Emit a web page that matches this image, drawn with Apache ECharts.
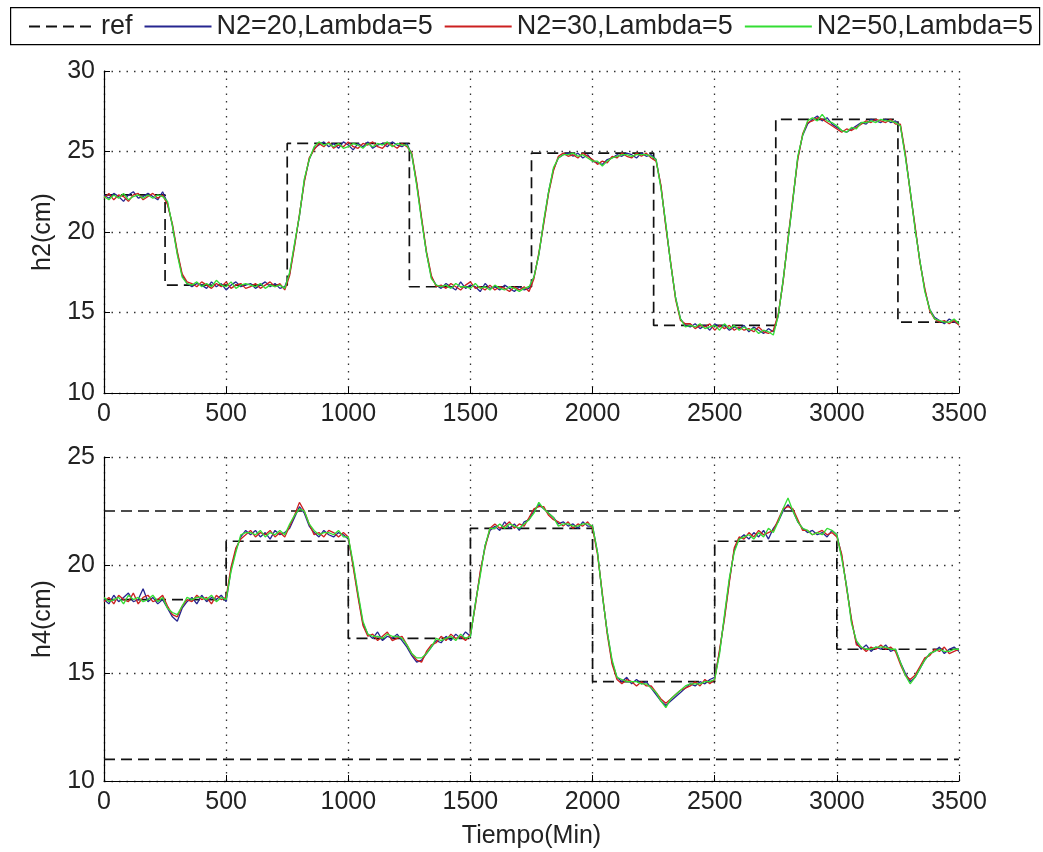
<!DOCTYPE html>
<html>
<head>
<meta charset="utf-8">
<title>h2 / h4</title>
<script src="https://cdn.jsdelivr.net/npm/echarts@6.0.0/dist/echarts.min.js"></script>
<style>
  html, body { margin: 0; padding: 0; background: #fff; }
  #chart { width: 1043px; height: 852px; }
</style>
</head>
<body>
<div id="chart"></div>
<script>
// sampled every DT minutes, 0..3500
const DT = 20

// h2 (top) -- one row = 200 min
const h2N20 = [
  22.3, 22.1, 22.4, 22.2, 21.9, 22.3, 22.5, 22.1, 22.2, 22.4,
  22.2, 22.0, 22.5, 21.8, 20.4, 18.7, 17.3, 16.8, 16.6, 16.8,
  16.7, 16.5, 16.9, 16.6, 16.8, 16.4, 16.7, 16.9, 16.6, 16.7,
  16.8, 16.5, 16.7, 16.9, 16.6, 16.8, 16.5, 16.6, 17.4, 19.2,
  21.0, 23.2, 24.5, 25.2, 25.4, 25.6, 25.3, 25.5, 25.2, 25.6,
  25.4, 25.1, 25.5, 25.3, 25.6, 25.2, 25.4, 25.5, 25.3, 25.6,
  25.4, 25.3, 25.5, 24.8, 23.0, 20.8, 18.7, 17.2, 16.7, 16.5,
  16.8, 16.6, 16.4, 16.9, 16.5, 16.7, 16.6, 16.3, 16.8, 16.5,
  16.6, 16.4, 16.7, 16.5, 16.3, 16.6, 16.4, 16.5, 17.2, 18.6,
  20.6, 22.5, 23.9, 24.6, 24.8, 24.9, 24.7, 24.9, 24.6, 24.8,
  24.4, 24.3, 24.2, 24.5, 24.6, 24.8, 24.7, 24.9, 24.8, 24.6,
  24.9, 24.7, 24.8, 24.5, 22.8, 20.4, 18.0, 15.9, 14.6, 14.2,
  14.1, 14.3, 14.0, 14.2, 13.9, 14.3, 14.1, 14.2, 13.9, 14.1,
  14.0, 14.2, 13.8, 14.1, 13.9, 13.7, 14.0, 13.8, 14.8, 17.0,
  19.5, 22.0, 24.6, 26.0, 26.7, 27.0, 27.2, 26.9, 27.1, 26.7,
  26.5, 26.3, 26.2, 26.4, 26.6, 26.8, 26.7, 27.0, 26.9, 26.8,
  27.0, 26.8, 26.9, 26.6, 24.8, 22.6, 20.3, 18.2, 16.4, 15.2,
  14.7, 14.5, 14.3, 14.6, 14.4, 14.3,
]
const h2N30 = [
  22.1, 22.4, 22.0, 22.3, 22.2, 21.9, 22.3, 22.4, 22.0, 22.2,
  22.4, 22.1, 22.3, 21.7, 20.5, 18.8, 17.4, 16.9, 16.8, 16.6,
  16.9, 16.7, 16.5, 16.8, 16.6, 16.9, 16.5, 16.7, 16.8, 16.5,
  16.6, 16.8, 16.5, 16.7, 16.9, 16.6, 16.8, 16.4, 17.3, 19.1,
  21.1, 23.1, 24.6, 25.1, 25.5, 25.3, 25.6, 25.2, 25.4, 25.3,
  25.6, 25.3, 25.2, 25.5, 25.4, 25.6, 25.3, 25.2, 25.5, 25.4,
  25.2, 25.5, 25.3, 24.9, 23.1, 20.9, 18.8, 17.3, 16.6, 16.7,
  16.5, 16.8, 16.6, 16.4, 16.7, 16.9, 16.5, 16.6, 16.4, 16.7,
  16.4, 16.6, 16.5, 16.3, 16.6, 16.4, 16.6, 16.3, 17.1, 18.7,
  20.5, 22.4, 23.8, 24.7, 24.9, 24.7, 24.8, 24.6, 24.9, 24.7,
  24.5, 24.2, 24.4, 24.3, 24.7, 24.6, 24.9, 24.7, 24.6, 24.9,
  24.7, 24.9, 24.6, 24.4, 22.9, 20.3, 18.1, 15.8, 14.5, 14.3,
  14.3, 14.0, 14.2, 14.1, 14.3, 13.9, 14.2, 14.0, 14.2, 13.9,
  14.1, 13.9, 14.0, 13.8, 14.1, 13.8, 13.7, 13.9, 14.9, 16.9,
  19.6, 22.1, 24.5, 26.1, 26.8, 26.9, 27.1, 27.0, 26.8, 26.6,
  26.4, 26.2, 26.4, 26.3, 26.5, 26.7, 26.9, 26.8, 27.0, 26.9,
  26.8, 27.0, 26.7, 26.7, 24.9, 22.5, 20.4, 18.1, 16.5, 15.1,
  14.6, 14.4, 14.5, 14.3, 14.5, 14.2,
]
const h2N50 = [
  22.2, 22.0, 22.3, 22.1, 22.4, 22.0, 22.2, 22.3, 22.1, 22.3,
  22.1, 22.3, 22.2, 21.9, 20.4, 18.6, 17.2, 16.8, 16.7, 16.9,
  16.6, 16.8, 16.6, 17.0, 16.7, 16.6, 16.9, 16.5, 16.7, 16.8,
  16.7, 16.6, 16.8, 16.5, 16.7, 16.6, 16.7, 16.5, 17.5, 19.3,
  21.0, 23.3, 24.5, 25.3, 25.6, 25.4, 25.5, 25.3, 25.5, 25.2,
  25.3, 25.5, 25.4, 25.2, 25.5, 25.3, 25.5, 25.4, 25.6, 25.3,
  25.5, 25.4, 25.4, 24.8, 22.9, 20.7, 18.7, 17.1, 16.7, 16.6,
  16.7, 16.5, 16.8, 16.6, 16.6, 16.5, 16.8, 16.5, 16.6, 16.4,
  16.7, 16.5, 16.4, 16.6, 16.5, 16.3, 16.5, 16.6, 17.2, 18.6,
  20.7, 22.5, 24.0, 24.6, 24.8, 24.8, 24.9, 24.7, 24.8, 24.6,
  24.4, 24.4, 24.1, 24.4, 24.6, 24.7, 24.8, 24.8, 24.7, 24.8,
  24.8, 24.8, 24.7, 24.5, 22.7, 20.5, 18.0, 15.9, 14.6, 14.1,
  14.2, 14.1, 14.3, 14.0, 14.1, 14.2, 13.9, 14.3, 14.0, 14.2,
  13.9, 14.1, 13.9, 14.0, 13.7, 13.9, 13.8, 13.6, 14.8, 17.0,
  19.5, 22.0, 24.7, 26.0, 26.9, 27.1, 26.9, 27.3, 26.9, 26.8,
  26.6, 26.3, 26.2, 26.5, 26.4, 26.8, 26.8, 26.9, 26.8, 27.0,
  26.9, 26.9, 26.8, 26.6, 24.7, 22.6, 20.2, 18.2, 16.3, 15.2,
  14.6, 14.5, 14.4, 14.4, 14.6, 14.3,
]

// h4 (bottom)
const h4N20 = [
  18.4, 18.2, 18.6, 18.3, 18.5, 18.7, 18.3, 18.4, 18.9, 18.3,
  18.5, 18.2, 18.4, 18.0, 17.6, 17.4, 18.0, 18.3, 18.5, 18.2,
  18.6, 18.3, 18.5, 18.4, 18.6, 18.3, 19.8, 20.7, 21.3, 21.6,
  21.4, 21.6, 21.3, 21.5, 21.2, 21.6, 21.4, 21.5, 21.7, 22.2,
  22.7, 22.4, 21.8, 21.5, 21.3, 21.6, 21.4, 21.3, 21.5, 21.4,
  21.2, 20.0, 18.6, 17.3, 16.8, 16.6, 16.9, 16.5, 16.7, 16.6,
  16.8, 16.5, 16.2, 15.8, 15.5, 15.6, 15.9, 16.2, 16.5, 16.4,
  16.7, 16.5, 16.8, 16.6, 16.9, 16.7, 18.2, 19.6, 20.9, 21.6,
  21.8, 21.6, 22.0, 21.7, 21.9, 21.6, 22.0, 22.1, 22.5, 22.8,
  22.6, 22.4, 22.2, 21.9, 22.0, 21.8, 21.9, 21.7, 22.0, 21.8,
  21.8, 20.6, 18.6, 16.9, 15.5, 14.8, 14.6, 14.8, 14.5, 14.7,
  14.5, 14.6, 14.3, 14.0, 13.7, 13.5, 13.7, 13.9, 14.1, 14.3,
  14.5, 14.4, 14.6, 14.5, 14.7, 14.8, 16.0, 17.6, 19.3, 20.7,
  21.2, 21.4, 21.2, 21.5, 21.3, 21.6, 21.2, 21.7, 22.0, 22.5,
  22.8, 22.5, 22.0, 21.7, 21.5, 21.6, 21.4, 21.5, 21.3, 21.6,
  21.4, 20.4, 19.0, 17.4, 16.4, 16.1, 16.3, 16.0, 16.2, 16.1,
  16.3, 16.0, 16.1, 15.5, 15.0, 14.6, 14.8, 15.2, 15.6, 15.9,
  16.0, 16.2, 15.9, 16.1, 16.2, 16.0,
]
const h4N30 = [
  18.3, 18.5, 18.2, 18.6, 18.4, 18.3, 18.7, 18.2, 18.5, 18.6,
  18.3, 18.4, 18.6, 18.1, 17.7, 17.6, 18.1, 18.4, 18.3, 18.6,
  18.4, 18.5, 18.2, 18.6, 18.4, 18.5, 19.9, 20.8, 21.2, 21.4,
  21.6, 21.3, 21.5, 21.4, 21.6, 21.3, 21.5, 21.3, 21.8, 22.3,
  22.9, 22.5, 21.9, 21.4, 21.5, 21.3, 21.6, 21.5, 21.3, 21.5,
  21.3, 19.9, 18.5, 17.2, 16.7, 16.8, 16.5, 16.7, 16.9, 16.5,
  16.6, 16.7, 16.3, 15.9, 15.6, 15.5, 16.0, 16.3, 16.4, 16.7,
  16.5, 16.8, 16.6, 16.7, 16.5, 16.8, 18.1, 19.7, 20.8, 21.7,
  21.9, 21.7, 21.8, 22.0, 21.7, 21.9, 21.8, 22.2, 22.6, 22.7,
  22.7, 22.3, 22.1, 22.0, 21.8, 22.0, 21.7, 21.9, 21.8, 22.0,
  21.7, 20.5, 18.7, 16.8, 15.4, 14.7, 14.5, 14.7, 14.6, 14.4,
  14.6, 14.4, 14.4, 14.1, 13.8, 13.6, 13.8, 14.0, 14.2, 14.3,
  14.4, 14.6, 14.4, 14.7, 14.5, 14.7, 16.1, 17.5, 19.2, 20.8,
  21.3, 21.2, 21.5, 21.3, 21.6, 21.4, 21.5, 21.6, 22.1, 22.6,
  22.7, 22.6, 22.1, 21.6, 21.6, 21.4, 21.5, 21.6, 21.4, 21.5,
  21.3, 20.5, 18.9, 17.5, 16.3, 16.2, 16.0, 16.2, 16.1, 16.3,
  16.1, 16.2, 16.0, 15.4, 14.9, 14.7, 14.9, 15.3, 15.7, 15.8,
  16.1, 16.0, 16.2, 15.9, 16.0, 16.1,
]
const h4N50 = [
  18.5, 18.3, 18.4, 18.5, 18.2, 18.6, 18.4, 18.5, 18.3, 18.4,
  18.6, 18.3, 18.5, 18.0, 17.8, 17.7, 18.1, 18.5, 18.4, 18.5,
  18.5, 18.4, 18.6, 18.3, 18.5, 18.4, 19.7, 20.6, 21.4, 21.5,
  21.5, 21.4, 21.6, 21.3, 21.5, 21.4, 21.6, 21.4, 21.9, 22.3,
  22.6, 22.5, 21.9, 21.6, 21.4, 21.5, 21.5, 21.4, 21.6, 21.3,
  21.3, 20.1, 18.7, 17.4, 16.8, 16.7, 16.7, 16.6, 16.8, 16.7,
  16.7, 16.6, 16.3, 15.9, 15.7, 15.7, 15.9, 16.2, 16.6, 16.5,
  16.6, 16.7, 16.5, 16.8, 16.6, 16.7, 18.2, 19.5, 20.9, 21.7,
  21.7, 21.9, 21.7, 21.9, 21.8, 21.7, 21.9, 22.1, 22.4, 22.9,
  22.6, 22.4, 22.2, 21.8, 21.9, 21.9, 21.8, 21.8, 21.9, 21.9,
  21.8, 20.6, 18.6, 16.9, 15.6, 14.8, 14.7, 14.6, 14.6, 14.6,
  14.5, 14.5, 14.3, 14.1, 13.7, 13.4, 13.8, 14.0, 14.2, 14.4,
  14.5, 14.5, 14.5, 14.6, 14.6, 14.7, 15.9, 17.7, 19.4, 20.6,
  21.2, 21.3, 21.4, 21.2, 21.5, 21.3, 21.7, 21.5, 22.0, 22.6,
  23.1, 22.5, 22.0, 21.7, 21.6, 21.4, 21.5, 21.4, 21.7, 21.6,
  21.4, 20.3, 19.0, 17.3, 16.5, 16.2, 16.1, 16.1, 16.2, 16.2,
  16.2, 16.1, 16.1, 15.5, 14.9, 14.5, 14.8, 15.2, 15.6, 15.9,
  16.0, 16.1, 16.0, 16.0, 16.1, 16.1,
]

// reference steps (value holds from each time to the next)
const refH2T = [0, 250, 750, 1250, 1750, 2250, 2750, 3250, 3500]
const refH2V = [22.3, 16.7, 25.5, 16.6, 24.9, 14.2, 27.0, 14.4, 14.4]
const refH4T = [0, 500, 1000, 1500, 2000, 2500, 3000, 3500]
const refH4V = [18.4, 21.1, 16.6, 21.7, 14.6, 21.1, 16.1, 16.1]
const h4Limits = [22.5, 11.0]

const names = ['ref', 'N2=20,Lambda=5', 'N2=30,Lambda=5', 'N2=50,Lambda=5']
const xTicks = { min: 0, max: 3500, interval: 500 }

const FONT = 'Liberation Sans'
const BLUE = '#262690', RED = '#cc2020', GREEN = '#33dd33', REF = '#111'
const TXT = '#222'

const t = h2N20.map((_, i) => i * DT)
const pairs = ys => ys.map((y, i) => [t[i], y])
const steps = (ts, vs) => ts.map((x, i) => [x, vs[i]])

const chart = echarts.init(document.getElementById('chart'))

const gridLine = { lineStyle: { color: '#333', type: [1.5, 6], width: 1.3 } }
const label = { color: TXT, fontSize: 25, fontFamily: FONT, margin: 9, formatter: v => String(v) }

const xAxis = gridIndex => ({
  type: 'value', gridIndex, ...xTicks,
  axisLine: { onZero: false, lineStyle: { color: '#000', width: 1.2 } },
  axisTick: { inside: true, length: 6, lineStyle: { color: '#000' } },
  axisLabel: label,
  splitLine: gridLine,
})

const yAxis = (gridIndex, max, name) => ({
  type: 'value', gridIndex, min: 10, max, interval: 5,
  name, nameLocation: 'middle', nameGap: 48,
  nameTextStyle: { color: TXT, fontSize: 25, fontFamily: FONT },
  axisLine: { show: true, lineStyle: { color: '#000', width: 1.2 } },
  axisTick: { show: true, inside: true, length: 6, lineStyle: { color: '#000' } },
  axisLabel: label,
  splitLine: gridLine,
})

const line = (name, data, color, idx) => ({
  name, type: 'line', data, xAxisIndex: idx, yAxisIndex: idx,
  symbol: 'none', z: 3,
  lineStyle: { color, width: 1.3 }, itemStyle: { color },
})

const refLine = (name, data, idx) => ({
  name, type: 'line', data, xAxisIndex: idx, yAxisIndex: idx,
  symbol: 'none', step: 'end', z: 2,
  lineStyle: { color: REF, width: 1.7, type: [11, 6] }, itemStyle: { color: REF },
})

chart.setOption({
  animation: false,
  backgroundColor: '#fff',
  graphic: [{
    type: 'rect', left: 10, top: 7,
    shape: { width: 1029, height: 37 },
    style: { fill: 'transparent', stroke: '#000', lineWidth: 1.2 },
  }],
  legend: {
    data: names, left: 28, top: 13, padding: 0,
    itemGap: 11, itemWidth: 67, itemHeight: 14,
    itemStyle: { opacity: 0 },
    textStyle: { color: TXT, fontSize: 27, fontFamily: FONT },
  },
  grid: [
    { left: 104, right: 84, top: 71, height: 322 },
    { left: 104, right: 84, top: 457, height: 324 },
  ],
  xAxis: [
    xAxis(0),
    { ...xAxis(1), name: 'Tiempo(Min)', nameLocation: 'middle', nameGap: 43,
      nameTextStyle: { color: TXT, fontSize: 25, fontFamily: FONT } },
  ],
  yAxis: [yAxis(0, 30, 'h2(cm)'), yAxis(1, 25, 'h4(cm)')],
  series: [
    refLine(names[0], steps(refH2T, refH2V), 0),
    line(names[1], pairs(h2N20), BLUE, 0),
    line(names[2], pairs(h2N30), RED, 0),
    line(names[3], pairs(h2N50), GREEN, 0),
    refLine(names[0], steps(refH4T, refH4V), 1),
    ...h4Limits.map(v => ({ ...refLine('lim', [[0, v], [3500, v]], 1), step: false })),
    line(names[1], pairs(h4N20), BLUE, 1),
    line(names[2], pairs(h4N30), RED, 1),
    line(names[3], pairs(h4N50), GREEN, 1),
  ],
})
</script>
</body>
</html>
